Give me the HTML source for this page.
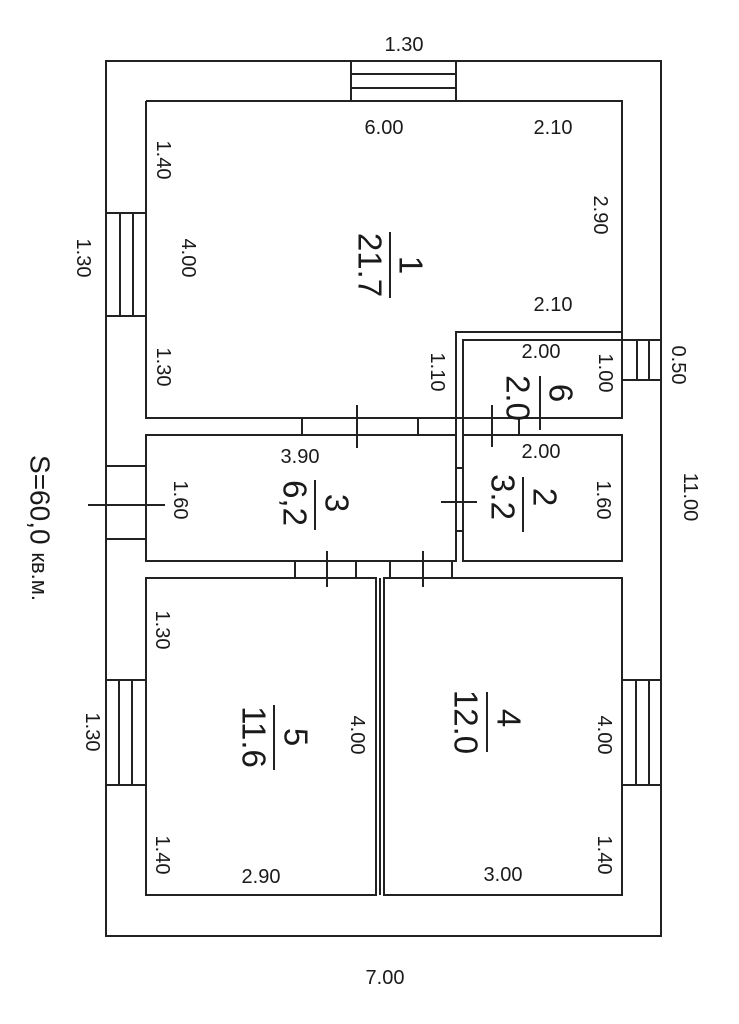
<!DOCTYPE html>
<html><head><meta charset="utf-8"><style>
html,body{margin:0;padding:0;background:#fff;}
svg{display:block;}
text{font-family:"Liberation Sans",sans-serif;fill:#1a1a1a;}
</style></head><body>
<svg width="739" height="1024" viewBox="0 0 739 1024" xmlns="http://www.w3.org/2000/svg">
<g fill="none" stroke="#222" stroke-width="2">
<rect x="106" y="61" width="555" height="875"/>
<polyline points="146,101 622,101 622,418 146,418 146,101"/>
<polyline points="456,418 456,332 622,332"/>
<polyline points="463,418 463,340 622,340"/>
<rect x="146" y="435" width="310" height="126"/>
<rect x="463" y="435" width="159" height="126"/>
<line x1="456" y1="418" x2="456" y2="435"/>
<line x1="463" y1="418" x2="463" y2="435"/>
<rect x="146" y="578" width="230" height="317"/>
<rect x="384" y="578" width="238" height="317"/>
<line x1="380" y1="578" x2="380" y2="895"/>
<line x1="351" y1="61" x2="351" y2="101"/><line x1="456" y1="61" x2="456" y2="101"/>
<line x1="351" y1="74" x2="456" y2="74"/><line x1="351" y1="88" x2="456" y2="88"/>
<line x1="106" y1="213" x2="146" y2="213"/><line x1="106" y1="316" x2="146" y2="316"/>
<line x1="120" y1="213" x2="120" y2="316"/><line x1="133" y1="213" x2="133" y2="316"/>
<line x1="622" y1="340" x2="661" y2="340"/><line x1="622" y1="380" x2="661" y2="380"/>
<line x1="637" y1="340" x2="637" y2="380"/><line x1="649" y1="340" x2="649" y2="380"/>
<line x1="302" y1="418" x2="302" y2="435"/><line x1="418" y1="418" x2="418" y2="435"/>
<line x1="357" y1="405" x2="357" y2="448"/>
<line x1="492" y1="405" x2="492" y2="447"/>
<line x1="519" y1="418" x2="519" y2="435"/>
<line x1="106" y1="466" x2="146" y2="466"/><line x1="106" y1="539" x2="146" y2="539"/>
<line x1="88" y1="505" x2="165" y2="505"/>
<rect x="456" y="468" width="7" height="63"/>
<line x1="441" y1="502" x2="477" y2="502"/>
<line x1="295" y1="561" x2="295" y2="578"/><line x1="356" y1="561" x2="356" y2="578"/>
<line x1="390" y1="561" x2="390" y2="578"/><line x1="452" y1="561" x2="452" y2="578"/>
<line x1="327" y1="551" x2="327" y2="587"/><line x1="423" y1="551" x2="423" y2="587"/>
<line x1="106" y1="680" x2="146" y2="680"/><line x1="106" y1="785" x2="146" y2="785"/>
<line x1="119" y1="680" x2="119" y2="785"/><line x1="132" y1="680" x2="132" y2="785"/>
<line x1="622" y1="680" x2="661" y2="680"/><line x1="622" y1="785" x2="661" y2="785"/>
<line x1="636" y1="680" x2="636" y2="785"/><line x1="649" y1="680" x2="649" y2="785"/>
<line x1="390" y1="232" x2="390" y2="298"/>
<line x1="540" y1="376" x2="540" y2="430"/>
<line x1="315" y1="480" x2="315" y2="530"/>
<line x1="523" y1="477" x2="523" y2="532"/>
<line x1="274" y1="705" x2="274" y2="770"/>
<line x1="487" y1="692" x2="487" y2="752"/>
</g>
<g font-size="20" text-anchor="middle" dominant-baseline="central">
<text x="404" y="45">1.30</text>
<text x="384" y="128">6.00</text>
<text x="553" y="128">2.10</text>
<text x="553" y="305">2.10</text>
<text x="541" y="352">2.00</text>
<text x="300" y="457">3.90</text>
<text x="541" y="452">2.00</text>
<text x="261" y="877">2.90</text>
<text x="503" y="875">3.00</text>
<text x="385" y="978">7.00</text>
<text transform="translate(163,160) rotate(90)">1.40</text>
<text transform="translate(600,215) rotate(90)">2.90</text>
<text transform="translate(188,258) rotate(90)">4.00</text>
<text transform="translate(83,258) rotate(90)">1.30</text>
<text transform="translate(163,367) rotate(90)">1.30</text>
<text transform="translate(437,372) rotate(90)">1.10</text>
<text transform="translate(605,373) rotate(90)">1.00</text>
<text transform="translate(678,365) rotate(90)">0.50</text>
<text transform="translate(180,500) rotate(90)">1.60</text>
<text transform="translate(603,500) rotate(90)">1.60</text>
<text transform="translate(690,497) rotate(90)">11.00</text>
<text transform="translate(162,630) rotate(90)">1.30</text>
<text transform="translate(357,735) rotate(90)">4.00</text>
<text transform="translate(162,855) rotate(90)">1.40</text>
<text transform="translate(92,732) rotate(90)">1.30</text>
<text transform="translate(604,735) rotate(90)">4.00</text>
<text transform="translate(604,855) rotate(90)">1.40</text>
</g>
<g font-size="33" text-anchor="middle" dominant-baseline="central">
<text transform="translate(411,265) rotate(90)">1</text>
<text transform="translate(370,265) rotate(90)">21.7</text>
<text transform="translate(561,393) rotate(90)">6</text>
<text transform="translate(518,398) rotate(90)">2.0</text>
<text transform="translate(337,503) rotate(90)">3</text>
<text transform="translate(295,503) rotate(90)">6,2</text>
<text transform="translate(545,497) rotate(90)">2</text>
<text transform="translate(503,497) rotate(90)">3.2</text>
<text transform="translate(296,737) rotate(90)">5</text>
<text transform="translate(254,737) rotate(90)">11.6</text>
<text transform="translate(509,718) rotate(90)">4</text>
<text transform="translate(466,722) rotate(90)">12.0</text>
</g>
<text transform="translate(40,528) rotate(90)" text-anchor="middle" dominant-baseline="central" font-size="28">S=60,0 <tspan font-size="22">кв.м.</tspan></text>
</svg>
</body></html>
